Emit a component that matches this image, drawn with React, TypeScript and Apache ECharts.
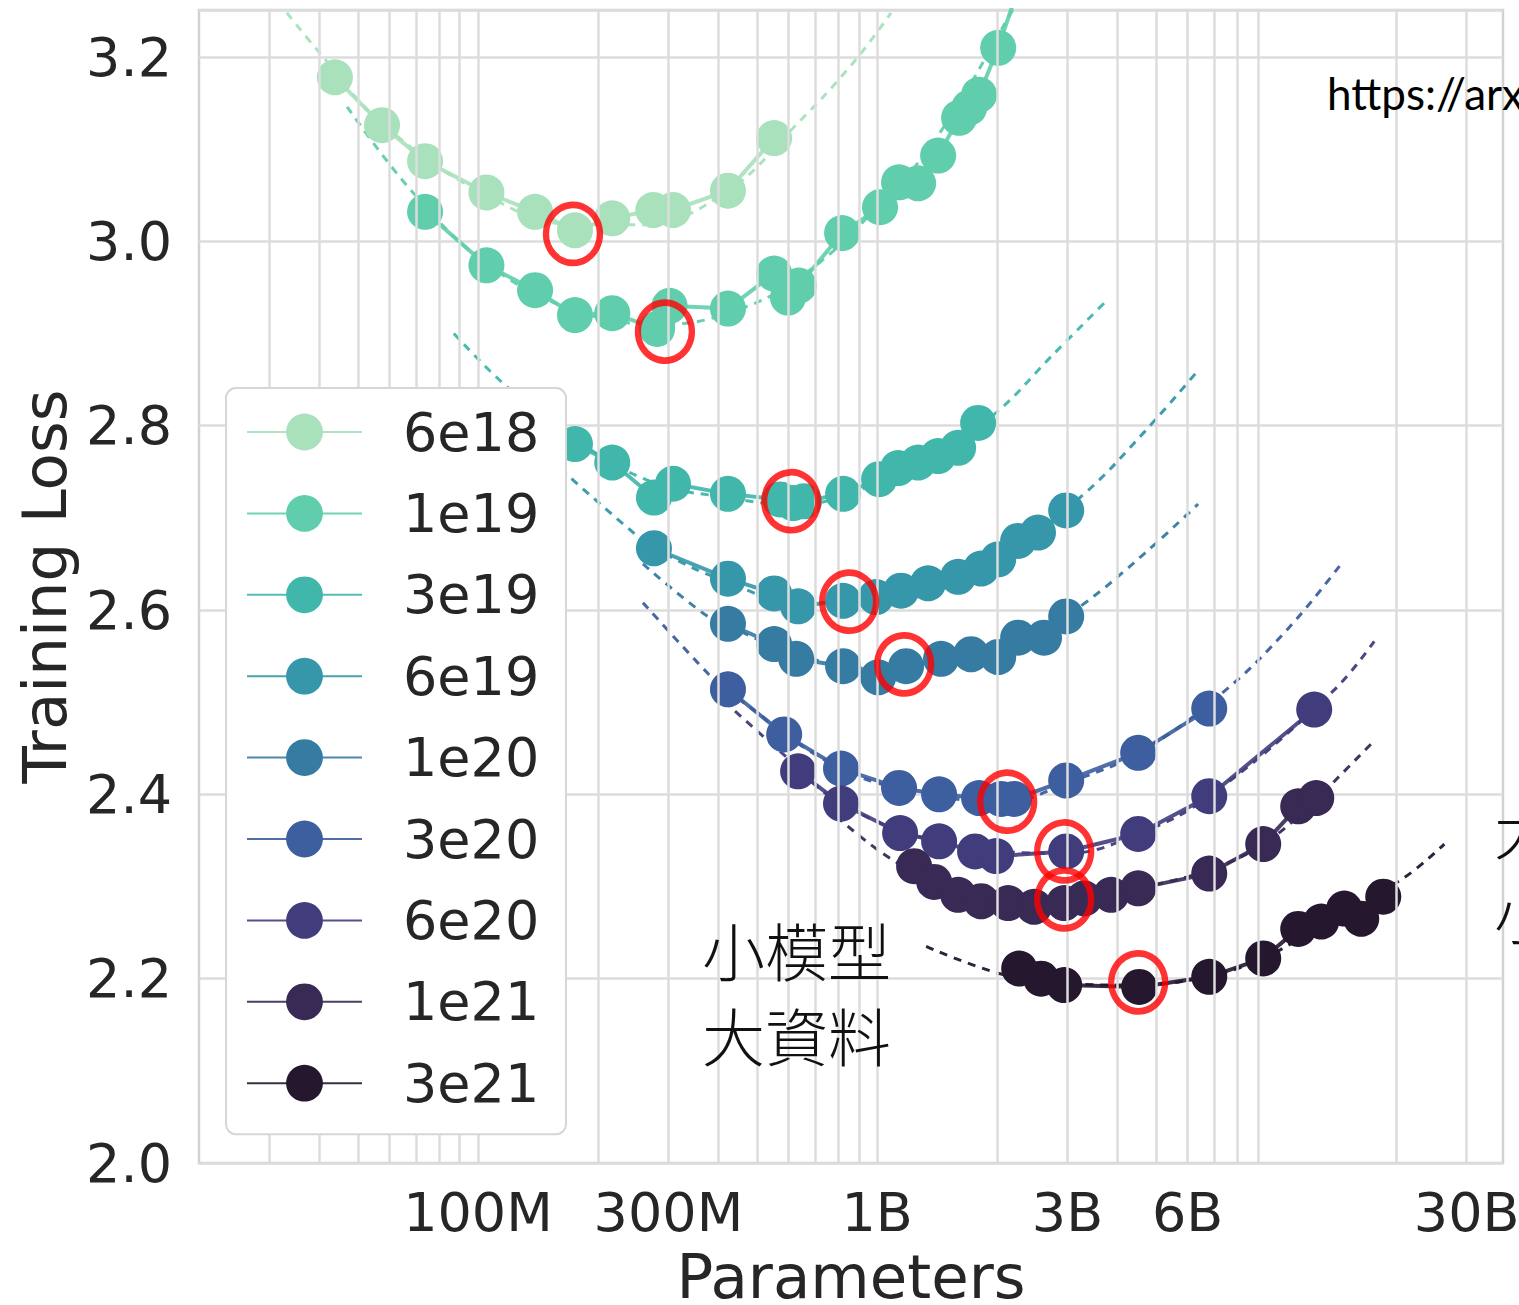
import React, { useEffect, useRef } from 'react';
import * as echarts from 'echarts';

// ---- data (parameters in millions, training loss) ----
const seriesNames = ['6e18', '1e19', '3e19', '6e19', '1e20', '3e20', '6e20', '1e21', '3e21'];
const seriesColors = ['#a8e1bc', '#60ceac', '#41b6ab', '#3597a9', '#367ba2', '#3d5e9f', '#413d7c', '#382a55', '#24172e'];

const pts6e18 = [[43.8, 3.178], [57.5, 3.126], [73.7, 3.087], [105, 3.053], [139, 3.032], [175, 3.012], [217, 3.025], [275, 3.034], [308, 3.034], [423, 3.055], [552, 3.112]];
const pts1e19 = [[73.7, 3.032], [105, 2.974], [139, 2.947], [175, 2.92], [217, 2.922], [281, 2.905], [302, 2.93], [423, 2.927], [552, 2.965], [598, 2.939], [637, 2.952], [817, 3.009], [1017, 3.037], [1135, 3.064], [1267, 3.063], [1422, 3.093], [1605, 3.134], [1701, 3.145], [1801, 3.159], [2011, 3.21], [2296, 3.284]];
const pts3e19 = [[175, 2.78], [217, 2.76], [276, 2.722], [308, 2.737], [423, 2.726], [571, 2.72], [616, 2.716], [656, 2.718], [822, 2.726], [1012, 2.742], [1129, 2.754], [1267, 2.76], [1422, 2.767], [1596, 2.776], [1791, 2.803]];
const pts6e19 = [[276, 2.667], [423, 2.634], [552, 2.618], [634, 2.604], [822, 2.61], [994, 2.614], [1148, 2.621], [1342, 2.629], [1596, 2.636], [1823, 2.645], [2011, 2.655], [2256, 2.675], [2530, 2.684], [2977, 2.708]];
const pts1e20 = [[423, 2.585], [552, 2.563], [627, 2.547], [822, 2.539], [1006, 2.527], [1182, 2.539], [1446, 2.547], [1720, 2.552], [2011, 2.549], [2256, 2.57], [2620, 2.57], [2977, 2.593]];
const pts3e20 = [[423, 2.514], [585, 2.465], [812, 2.428], [1135, 2.407], [1430, 2.4], [1801, 2.396], [2046, 2.395], [2204, 2.395], [2977, 2.415], [4510, 2.445], [6795, 2.493]];
const pts6e20 = [[634, 2.425], [812, 2.39], [1142, 2.358], [1430, 2.349], [1760, 2.338], [1987, 2.333], [2977, 2.338], [4510, 2.357], [6795, 2.398], [12450, 2.492]];
const pts1e21 = [[1238, 2.322], [1390, 2.305], [1596, 2.291], [1823, 2.284], [2130, 2.282], [2474, 2.278], [2943, 2.282], [3303, 2.287], [3859, 2.291], [4510, 2.298], [6795, 2.314], [9277, 2.346], [11354, 2.387], [12598, 2.396]];
const pts3e21 = [[2270, 2.211], [2576, 2.2], [2943, 2.193], [4536, 2.191], [6795, 2.202], [9277, 2.222], [11354, 2.254], [12965, 2.262], [14806, 2.276], [16330, 2.265], [18543, 2.289]];

// dashed fitted curves
const fit6e18 = [[33.2, 3.248], [39.5, 3.208], [57.5, 3.128], [105, 3.05], [175, 3.018], [260, 3.018], [423, 3.055], [616, 3.123], [861, 3.191], [1084, 3.248]];
const fit1e19 = [[47, 3.146], [68.7, 3.053], [105, 2.976], [175, 2.925], [290, 2.91], [423, 2.922], [637, 2.96], [1017, 3.04], [1422, 3.115], [2167, 3.248], [2300, 3.27]];
const fit3e19 = [[87, 2.9], [119, 2.841], [175, 2.785], [276, 2.738], [423, 2.722], [616, 2.714], [1012, 2.738], [1422, 2.768], [2011, 2.816], [2730, 2.875], [3706, 2.933]];
const fit6e19 = [[161, 2.753], [242, 2.686], [276, 2.667], [423, 2.63], [634, 2.608], [994, 2.608], [1596, 2.632], [2256, 2.672], [3303, 2.726], [4668, 2.793], [6374, 2.86]];
const fit1e20 = [[259, 2.65], [368, 2.596], [423, 2.583], [627, 2.552], [1006, 2.536], [1720, 2.549], [2620, 2.58], [3303, 2.607], [4668, 2.661], [6374, 2.715]];
const fit3e20 = [[259, 2.608], [379, 2.53], [423, 2.512], [812, 2.428], [1430, 2.398], [2118, 2.392], [2977, 2.412], [4510, 2.445], [7282, 2.509], [10717, 2.58], [14722, 2.653]];
const fit6e20 = [[388, 2.512], [598, 2.439], [812, 2.39], [1430, 2.349], [2977, 2.336], [4510, 2.357], [6795, 2.398], [13730, 2.51], [17603, 2.566]];
const fit1e21 = [[790, 2.376], [1084, 2.33], [1596, 2.293], [2943, 2.282], [4510, 2.298], [6795, 2.318], [9277, 2.346], [12598, 2.394], [13976, 2.414], [17603, 2.458]];
const fit3e21 = [[1327, 2.235], [2046, 2.205], [2943, 2.195], [4510, 2.193], [6795, 2.203], [9277, 2.222], [12965, 2.258], [20810, 2.309], [26370, 2.346]];

// highlighted minima (red circles)
const minima = [[173, 3.008], [294, 2.902], [609, 2.718], [851, 2.609], [1169, 2.541], [2118, 2.392], [2943, 2.338], [2943, 2.286], [4510, 2.196]];

// axes
const xTickValues = [100, 300, 1000, 3000, 6000, 30000];
const xTickLabels = ['100M', '300M', '1B', '3B', '6B', '30B'];
const xGridValues = [30, 40, 50, 60, 70, 80, 90, 100, 200, 300, 400, 500, 600, 700, 800, 900, 1000, 2000, 3000, 4000, 5000, 6000, 7000, 8000, 9000, 20000, 30000];
const xMin = 20;
const xMax = 37000;
const yMin = 2.0;
const yMax = 3.251;
const yInterval = 0.2;

const allPoints = [pts6e18, pts1e19, pts3e19, pts6e19, pts1e20, pts3e20, pts6e20, pts1e21, pts3e21];
const allFits = [fit6e18, fit1e19, fit3e19, fit6e19, fit1e20, fit3e20, fit6e20, fit1e21, fit3e21];

const FONT = 'DejaVu Sans';
const TEXT_COLOR = '#262626';
const GRID_COLOR = '#dcdcdc';

const toData = (arr: number[][]) => arr.map(([m, l]) => [m * 1e6, l]);

export default function App() {
  const ref = useRef<HTMLDivElement>(null);

  useEffect(() => {
    if (!ref.current) return;
    const chart = echarts.init(ref.current, null, { renderer: 'svg' });

    const fitSeries = allFits.map((f, i) => ({
      name: 'fit ' + seriesNames[i],
      type: 'line',
      data: toData(f),
      smooth: 0.4,
      symbol: 'none',
      silent: true,
      z: 1,
      lineStyle: { color: seriesColors[i], width: 3, type: [8, 7], opacity: 0.95 },
      itemStyle: { color: seriesColors[i] },
    }));

    const mainSeries = allPoints.map((p, i) => ({
      name: seriesNames[i],
      type: 'line',
      data: toData(p),
      symbol: 'circle',
      symbolSize: 36,
      showAllSymbol: true,
      z: 2,
      itemStyle: { color: seriesColors[i], opacity: 1 },
      lineStyle: { color: seriesColors[i], width: 4, opacity: 0.9 },
      emphasis: { disabled: true },
    }));

    const option: any = {
      animation: false,
      backgroundColor: '#ffffff',
      grid: {
        left: 199,
        right: 16,
        top: 10,
        bottom: 142,
        show: true,
        borderColor: '#d2d2d2',
        borderWidth: 2.5,
        backgroundColor: 'transparent',
        containLabel: false,
        outerBoundsMode: 'none',
      },
      xAxis: {
        type: 'log',
        logBase: 10,
        min: xMin * 1e6,
        max: xMax * 1e6,
        name: 'Parameters',
        nameLocation: 'middle',
        nameGap: 83,
        nameTextStyle: { fontFamily: FONT, fontSize: 61, color: TEXT_COLOR },
        axisLine: { show: false },
        axisTick: { show: false },
        splitLine: { show: false },
        minorTick: { show: false },
        minorSplitLine: { show: false },
        axisLabel: {
          customValues: xTickValues.map((v) => v * 1e6),
          fontFamily: FONT,
          fontSize: 54,
          color: TEXT_COLOR,
          margin: 22,
          formatter: (v: number) => {
            let best = 0;
            let bd = Infinity;
            xTickValues.forEach((t, i) => {
              const d = Math.abs(Math.log10(v) - Math.log10(t * 1e6));
              if (d < bd) { bd = d; best = i; }
            });
            return xTickLabels[best];
          },
        },
      },
      yAxis: {
        type: 'value',
        min: yMin,
        max: yMax,
        interval: yInterval,
        name: 'Training Loss',
        nameLocation: 'middle',
        nameRotate: 90,
        nameGap: 121,
        nameTextStyle: { fontFamily: FONT, fontSize: 61, color: TEXT_COLOR },
        axisLine: { show: false },
        axisTick: { show: false },
        splitLine: { show: true, lineStyle: { color: GRID_COLOR, width: 2.5 } },
        axisLabel: {
          fontFamily: FONT,
          fontSize: 54,
          color: TEXT_COLOR,
          margin: 27,
          showMaxLabel: false,
          formatter: (v: number) => v.toFixed(1),
        },
      },
      legend: {
        show: true,
        data: seriesNames,
        orient: 'vertical',
        left: 226,
        top: 388,
        padding: [17, 20, 24, 20],
        itemGap: 27.4,
        itemWidth: 115,
        itemHeight: 46,
        backgroundColor: '#ffffff',
        borderColor: '#d6d6d6',
        borderWidth: 2,
        borderRadius: 10,
        selectedMode: false,
        z: 10,
        textStyle: {
          fontFamily: FONT,
          fontSize: 54,
          color: TEXT_COLOR,
          padding: [0, 0, 0, 36],
          width: 143,
          lineHeight: 46,
        },
      },
      series: [
        {
          name: 'vgrid',
          type: 'line',
          data: [],
          silent: true,
          z: 0,
          markLine: {
            silent: true,
            symbol: ['none', 'none'],
            label: { show: false },
            lineStyle: { color: GRID_COLOR, width: 2.5, type: 'solid' },
            emphasis: { disabled: true },
            data: xGridValues.map((v) => ({ xAxis: v * 1e6 })),
          },
        },
        ...fitSeries,
        ...mainSeries,
        {
          name: 'minima',
          type: 'scatter',
          data: toData(minima),
          symbol: 'circle',
          symbolSize: [54, 58],
          silent: true,
          z: 5,
          itemStyle: { color: 'rgba(255,255,255,0)', borderColor: '#ff0000', borderWidth: 6.5 },
        },
      ],
      graphic: [
        {
          type: 'text',
          x: 1327,
          y: 93,
          z: 20,
          style: {
            text: 'https://arxiv.org/abs/2203.15556',
            fontFamily: 'Lato',
            fontSize: 44,
            fill: '#000000',
            verticalAlign: 'middle',
          },
        },
        {
          type: 'text',
          x: 702,
          y: 906,
          z: 20,
          style: {
            text: '小模型\n大資料',
            fontFamily: 'Noto Sans CJK TC',
            fontSize: 63,
            fontWeight: 300,
            lineHeight: 85,
            fill: '#111111',
            verticalAlign: 'top',
          },
        },
        {
          type: 'text',
          x: 1494,
          y: 784,
          z: 20,
          style: {
            text: '大模型\n小資料',
            fontFamily: 'Noto Sans CJK TC',
            fontSize: 63,
            fontWeight: 300,
            lineHeight: 85,
            fill: '#111111',
            verticalAlign: 'top',
          },
        },
      ],
    };

    chart.setOption(option);
    return () => chart.dispose();
  }, []);

  return (
    <div
      ref={ref}
      style={{ position: 'fixed', left: 0, top: 0, width: 1519, height: 1305, background: '#ffffff' }}
    />
  );
}
